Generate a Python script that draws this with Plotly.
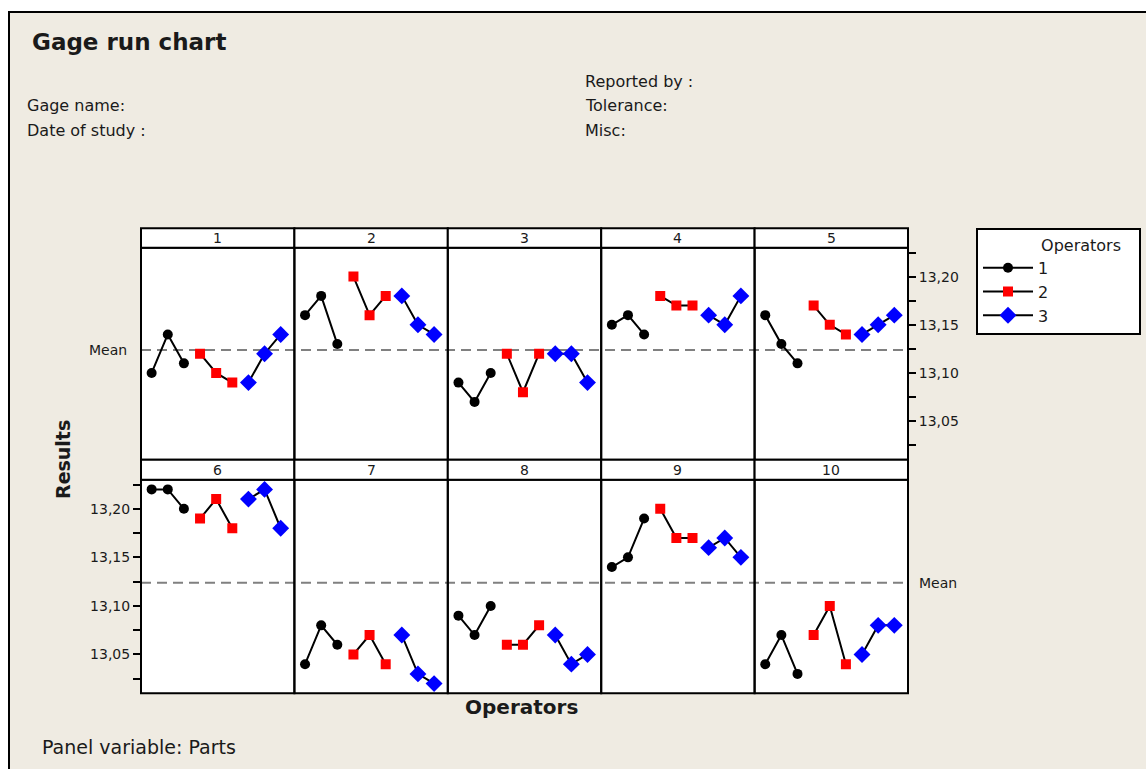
import plotly.graph_objects as go

# Gage run chart: 10 parts, 3 operators, 3 trials each
parts = [1, 2, 3, 4, 5, 6, 7, 8, 9, 10]
operators = ["1", "2", "3"]

op1_results = [
    [13.10, 13.14, 13.11],
    [13.16, 13.18, 13.13],
    [13.09, 13.07, 13.10],
    [13.15, 13.16, 13.14],
    [13.16, 13.13, 13.11],
    [13.22, 13.22, 13.20],
    [13.04, 13.08, 13.06],
    [13.09, 13.07, 13.10],
    [13.14, 13.15, 13.19],
    [13.04, 13.07, 13.03],
]
op2_results = [
    [13.12, 13.10, 13.09],
    [13.20, 13.16, 13.18],
    [13.12, 13.08, 13.12],
    [13.18, 13.17, 13.17],
    [13.17, 13.15, 13.14],
    [13.19, 13.21, 13.18],
    [13.05, 13.07, 13.04],
    [13.06, 13.06, 13.08],
    [13.20, 13.17, 13.17],
    [13.07, 13.10, 13.04],
]
op3_results = [
    [13.09, 13.12, 13.14],
    [13.18, 13.15, 13.14],
    [13.12, 13.12, 13.09],
    [13.16, 13.15, 13.18],
    [13.14, 13.15, 13.16],
    [13.21, 13.22, 13.18],
    [13.07, 13.03, 13.02],
    [13.07, 13.04, 13.05],
    [13.16, 13.17, 13.15],
    [13.05, 13.08, 13.08],
]

y_ticks = [13.025, 13.05, 13.075, 13.10, 13.125, 13.15, 13.175, 13.20, 13.225]
y_labels = ["", "13,05", "", "13,10", "", "13,15", "", "13,20", ""]

results = [op1_results, op2_results, op3_results]
all_values = [v for op in results for part in op for v in part]
grand_mean = sum(all_values) / len(all_values)

W, H = 1146, 769
FONT = "DejaVu Sans"
BG = "#EFEBE2"
TXT = "#1a1a1a"

plot_left, plot_right = 141, 908
panel_w = (plot_right - plot_left) / 5
rows_px = [(247.7, 459.7), (479.7, 693.3)]
strips_px = [(228.3, 247.7), (459.7, 479.7)]

styles = [
    dict(symbol="circle", color="black", size=10),
    dict(symbol="square", color="#FF0000", size=10),
    dict(symbol="diamond", color="#0000FF", size=13),
]


def px_x(p):
    return p / W


def px_y(p):
    return 1 - p / H


fig = go.Figure()
layout = dict(
    width=W, height=H,
    margin=dict(l=0, r=0, t=0, b=0),
    paper_bgcolor="white",
    plot_bgcolor="rgba(0,0,0,0)",
    font=dict(family=FONT, color=TXT, size=14),
)

shapes = [
    # outer beige frame
    dict(type="rect", xref="paper", yref="paper",
         x0=px_x(9), x1=1.02, y0=-0.02, y1=px_y(12),
         fillcolor=BG, line=dict(color="black", width=2), layer="below"),
]
annotations = []

for r in range(2):
    top, bot = rows_px[r]
    shapes.append(dict(type="rect", xref="paper", yref="paper",
                       x0=px_x(plot_left), x1=px_x(plot_right),
                       y0=px_y(bot), y1=px_y(top),
                       fillcolor="white", line=dict(width=0), layer="below"))

border_shapes = []
for idx, part in enumerate(parts):
    r, c = divmod(idx, 5)
    n = idx + 1
    sfx = "" if n == 1 else str(n)
    top, bot = rows_px[r]
    x0 = plot_left + c * panel_w
    x1 = x0 + panel_w

    xa = dict(domain=[px_x(x0), px_x(x1)], range=[0.34, 9.85],
              showgrid=False, zeroline=False, showticklabels=False, ticks="",
              showline=False, anchor="y" + sfx)
    ya = dict(domain=[px_y(bot), px_y(top)], range=[13.010, 13.230],
              showgrid=False, zeroline=False, showline=False,
              anchor="x" + sfx,
              tickmode="array", tickvals=y_ticks, ticktext=y_labels,
              tickfont=dict(family=FONT, size=14, color=TXT))
    if idx == 4:
        ya.update(side="right", ticks="outside", ticklen=7, tickwidth=1.5,
                  tickcolor="black", showticklabels=True)
    elif idx == 5:
        ya.update(side="left", ticks="outside", ticklen=7, tickwidth=1.5,
                  tickcolor="black", showticklabels=True)
    else:
        ya.update(ticks="", showticklabels=False)
    layout["xaxis" + sfx] = xa
    layout["yaxis" + sfx] = ya

    for k, op in enumerate(operators):
        st = styles[k]
        fig.add_trace(go.Scatter(
            x=[3 * k + 1, 3 * k + 2, 3 * k + 3],
            y=results[k][idx],
            mode="lines+markers",
            name=op,
            legendgroup=op,
            showlegend=(idx == 0),
            line=dict(color="black", width=2),
            marker=dict(symbol=st["symbol"], color=st["color"], size=st["size"],
                        line=dict(width=0)),
            xaxis="x" + sfx, yaxis="y" + sfx,
        ))

    # panel frame
    border_shapes.append(dict(type="rect", xref="paper", yref="paper",
                              x0=px_x(x0), x1=px_x(x1), y0=px_y(bot), y1=px_y(top),
                              line=dict(color="black", width=2), layer="above"))
    # strip header with part number
    s_top, s_bot = strips_px[r]
    border_shapes.append(dict(type="rect", xref="paper", yref="paper",
                              x0=px_x(x0), x1=px_x(x1), y0=px_y(s_bot), y1=px_y(s_top),
                              fillcolor="white", line=dict(color="black", width=2),
                              layer="above"))
    annotations.append(dict(text=str(part), xref="paper", yref="paper",
                            x=px_x((x0 + x1) / 2), y=px_y((s_top + s_bot) / 2),
                            xanchor="center", yanchor="middle", showarrow=False,
                            font=dict(family=FONT, size=14, color=TXT)))

# grand mean reference line on each row
for yref in ("y", "y6"):
    shapes.append(dict(type="line", xref="paper", yref=yref,
                       x0=px_x(plot_left), x1=px_x(plot_right),
                       y0=grand_mean, y1=grand_mean,
                       line=dict(color="#808080", width=2, dash="10px,6px"),
                       layer="below"))
shapes.extend(border_shapes)

annotations.append(dict(text="Mean", xref="paper", yref="y", x=px_x(129), y=grand_mean,
                        xanchor="right", yanchor="middle", showarrow=False,
                        font=dict(family=FONT, size=14, color=TXT)))
annotations.append(dict(text="Mean", xref="paper", yref="y6", x=px_x(917), y=grand_mean,
                        xanchor="left", yanchor="middle", showarrow=False,
                        font=dict(family=FONT, size=14, color=TXT)))


def label(text, x, y, size, bold=False, xanchor="left", angle=0):
    annotations.append(dict(
        text=f"<b>{text}</b>" if bold else text,
        xref="paper", yref="paper", x=px_x(x), y=px_y(y),
        xanchor=xanchor, yanchor="middle", showarrow=False, textangle=angle,
        font=dict(family=FONT, size=size, color=TXT)))


label("Gage run chart", 30, 42, 23, bold=True)
label("Reported by :", 583, 82, 16)
label("Gage name:", 25, 106, 16)
label("Tolerance:", 583, 106, 16)
label("Date of study :", 25, 130, 16)
label("Misc:", 583, 130, 16)
label("Panel variable: Parts", 40, 747, 19)
label("Operators", 521, 707, 20, bold=True, xanchor="center")
label("Results", 63, 460, 19, bold=True, xanchor="center", angle=-90)

layout["shapes"] = shapes
layout["annotations"] = annotations
layout["showlegend"] = True
layout["legend"] = dict(
    x=px_x(976), y=px_y(228), xanchor="left", yanchor="top",
    bgcolor="white", bordercolor="black", borderwidth=2,
    font=dict(family=FONT, size=16, color=TXT),
    title=dict(text="&nbsp;" * 12 + "Operators" + "&nbsp;" * 3, side="top",
               font=dict(family=FONT, size=16, color=TXT)),
    itemwidth=50, tracegroupgap=0, traceorder="grouped",
)

fig.update_layout(**layout)
fig.write_html("out.html")
